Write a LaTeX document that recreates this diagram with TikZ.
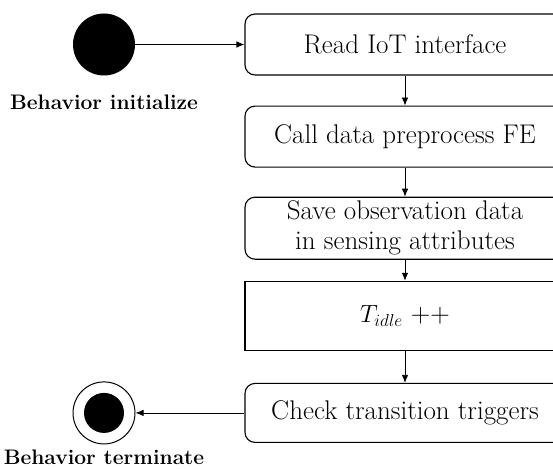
\documentclass[tikz,border=0pt]{standalone}
\usetikzlibrary{arrows.meta,positioning}

\begin{document}
\begin{tikzpicture}[->,>={Latex[length=8pt,width=6.5pt]},x=1pt,y=1pt,node distance=30pt,
  action/.style={draw,rounded corners=10pt,line width=1.1pt,minimum width=320pt,
    minimum height=61pt,inner sep=0pt,align=center,font=\fontsize{27}{30}\selectfont},
  lbl/.style={anchor=base,font=\bfseries\fontsize{21}{24}\selectfont}]
  \useasboundingbox (0,0) rectangle (553,-468);
  \clip (0,0) rectangle (553,-468);

  \node[circle,fill,minimum size=62pt,inner sep=0pt] (init) at (104,-44.5) {};
  \node[lbl] (initlbl) at (104,-110) {Behavior initialize};

  \node[action] (read) at (405,-44.5) {Read IoT interface};
  \node[action] (call) [below=of read] {Call data preprocess FE};
  \node[action,minimum height=62pt] (save) [below=29pt of call] {Save observation data\\in sensing attributes};
  \node[action,rounded corners=0pt,minimum height=69pt] (tidle) [below=21pt of save] {$T_{idle}$ ++};
  \node[action,minimum height=59pt] (check) [below=32pt of tidle] {Check transition triggers};

  \node[circle,draw,line width=1pt,minimum size=62pt,inner sep=0pt] (final) at (init |- check) {};
  \node[circle,fill,minimum size=40pt,inner sep=0pt] (finaldot) at (final) {};
  \node[lbl] (finallbl) at (104,-464) {Behavior terminate};

  \path[line width=0.8pt] (init) edge (read)
        (read) edge (call)
        (call) edge (save)
        (save) edge (tidle)
        (tidle) edge (check)
        (check) edge (final);
\end{tikzpicture}
\end{document}
